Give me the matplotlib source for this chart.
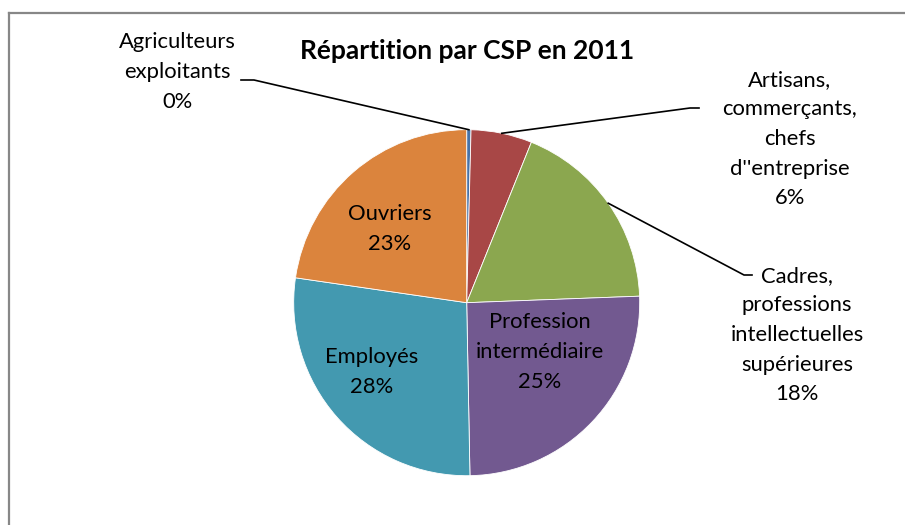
import numpy as np
import matplotlib
matplotlib.use("Agg")
import matplotlib.pyplot as plt

# data (percent shares)
categories = ["Agriculteurs\nexploitants", "Artisans,\ncommerçants,\nchefs\nd''entreprise",
              "Cadres,\nprofessions\nintellectuelles\nsupérieures", "Profession\nintermédiaire",
              "Employés", "Ouvriers"]
values = [0.4, 5.7, 18.3, 25.3, 27.6, 22.7]
colors = ["#4672A8", "#A84746", "#8BA74F", "#725990", "#4399B0", "#DB843D"]

plt.rcParams['font.family'] = ['Lato', 'DejaVu Sans']

W, H = 905, 525
fig = plt.figure(figsize=(W / 100, H / 100), dpi=100)

# pie centre and radius in pixels
cx, cy, r = 466.7, 302.7, 173
ax = fig.add_axes([(cx - r) / W, (H - cy - r) / H, 2 * r / W, 2 * r / H])

wedges, _ = ax.pie(values, colors=colors, startangle=90, counterclock=False, radius=1,
                   wedgeprops=dict(edgecolor='white', linewidth=0.6))
ax.set_xlim(-1, 1)
ax.set_ylim(-1, 1)
ax.axis('off')

def px(x, y):
    # pixel position -> pie data coords
    return (x - cx) / r, (cy - y) / r

# label positions (pixels) and leader elbows for the outside labels
label_pos = [(177, 72), (790, 139), (797, 335), (540, 352), (372, 372), (390, 229)]
leader = {0: [(254, 80), (241, 80)], 1: [(690, 108), (699, 108)], 2: [(744, 275), (752, 275)]}

fs = 15.8
for i, (lab, v) in enumerate(zip(categories, values)):
    txt = f"{lab}\n{round(v):.0f}%"
    x, y = px(*label_pos[i])
    ax.text(x, y, txt, ha='center', va='center', fontsize=fs, color='black',
            linespacing=1.6, clip_on=False)
    if i in leader:
        w = wedges[i]
        mid = np.deg2rad((w.theta1 + w.theta2) / 2)
        pts = [(np.cos(mid), np.sin(mid))] + [px(*p) for p in leader[i]]
        xs, ys = zip(*pts)
        ax.plot(xs, ys, color='black', lw=1.2, clip_on=False)

fig.text(cx / W, 1 - 51 / H, "Répartition par CSP en 2011", ha='center', va='center',
         fontsize=19, fontweight='bold')

# chart frame (top and left edges visible)
fig.add_artist(plt.Line2D([9 / W, 1], [1 - 13 / H, 1 - 13 / H], color='#878787', lw=1.6))
fig.add_artist(plt.Line2D([9 / W, 9 / W], [0, 1 - 13 / H], color='#878787', lw=1.6))

fig.savefig("out.png", dpi=100)
